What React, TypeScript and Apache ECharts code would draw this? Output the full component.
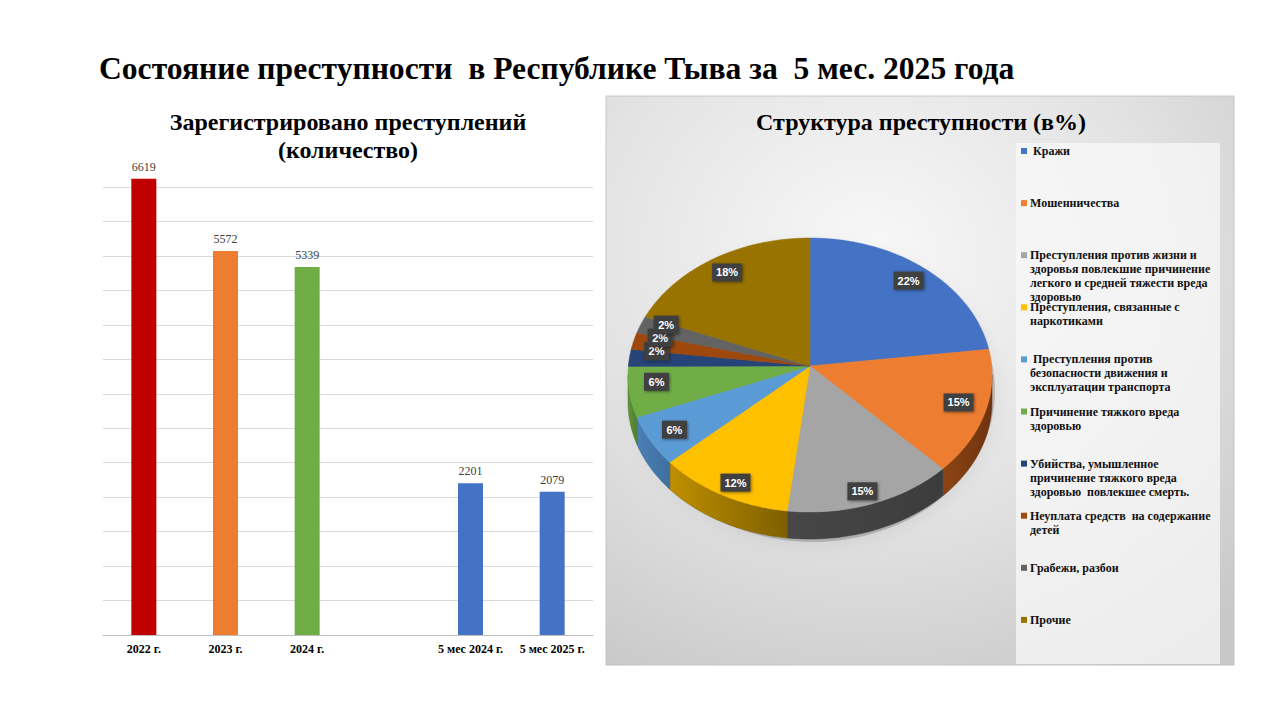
import React, { useEffect, useRef } from "react";
import * as echarts from "echarts";

// ---------- data ----------
const mainTitle = "Состояние преступности  в Республике Тыва за  5 мес. 2025 года";
const barTitleLines = ["Зарегистрировано преступлений", "(количество)"];
const pieTitle = "Структура преступности (в%)";

const barCategories = ["2022 г.", "2023 г.", "2024 г.", "", "5 мес 2024 г.", "5 мес 2025 г."];
const barValues: (number | null)[] = [6619, 5572, 5339, null, 2201, 2079];
const barColors = ["#C00000", "#ED7D31", "#70AD47", "#FFFFFF", "#4472C4", "#4472C4"];

const pieNames = [
  " Кражи",
  "Мошенничества",
  "Преступления против жизни и\nздоровья повлекшие причинение\nлегкого и средней тяжести вреда\nздоровью",
  "Преступления, связанные с\nнаркотиками",
  " Преступления против\nбезопасности движения и\nэксплуатации транспорта",
  "Причинение тяжкого вреда\nздоровью",
  "Убийства, умышленное\nпричинение тяжкого вреда\nздоровью  повлекшее смерть.",
  "Неуплата средств  на содержание\nдетей",
  "Грабежи, разбои",
  "Прочие",
];
const pieValues = [22, 15, 15, 12, 6, 6, 2, 2, 2, 18];
const pieColors = ["#4472C4", "#ED7D31", "#A5A5A5", "#FFC000", "#5B9BD5", "#70AD47", "#264478", "#9E480E", "#636363", "#997300"];
const pieSideColors = [
  ["#2F528F", "#2A4A80"],
  ["#8E4414", "#6E330F"],
  ["#474747", "#3C3C3C"],
  ["#BF8F00", "#7F5F00"],
  ["#4A80B5", "#3F6F9E"],
  ["#5E9639", "#4F7D31"],
  ["#1D3460", "#1D3460"],
  ["#7A370B", "#7A370B"],
  ["#4A4A4A", "#4A4A4A"],
  ["#735600", "#735600"],
];

// ---------- pie geometry (layout) ----------
const PIE = { cx: 810, cy: 375, rx: 182, ry: 137, depth: 27, apexDy: -9 };
const pieTotal = pieValues.reduce((a, b) => a + b, 0);
const pieStarts: number[] = [];
pieValues.reduce((acc, v, i) => {
  pieStarts[i] = acc;
  return acc + v;
}, 0);

function ellPt(deg: number, dy = 0): number[] {
  const r = (deg * Math.PI) / 180;
  return [PIE.cx + PIE.rx * Math.sin(r), PIE.cy - PIE.ry * Math.cos(r) + dy];
}
function arcPts(a0: number, a1: number, dy = 0): number[][] {
  const pts: number[][] = [];
  for (let t = a0; t < a1; t += 1) pts.push(ellPt(t, dy));
  pts.push(ellPt(a1, dy));
  return pts;
}

const SERIF = '"Liberation Serif", "Times New Roman", serif';

export default function App() {
  const ref = useRef<HTMLDivElement>(null);

  useEffect(() => {
    if (!ref.current) return;
    const chart = echarts.init(ref.current, undefined, { renderer: "svg" });

    const legendItems: any[] = [];
    pieNames.forEach((name, i) => {
      const y = 144 + i * 52.1;
      legendItems.push({
        type: "rect",
        shape: { x: 1021, y: y + 4, width: 6, height: 6 },
        style: { fill: pieColors[i] },
        z: 5,
      });
      legendItems.push({
        type: "text",
        x: 1030,
        y: y,
        style: {
          text: name,
          font: `bold 12px ${SERIF}`,
          fill: "#111111",
          lineHeight: 14,
          verticalAlign: "top",
          align: "left",
        },
        z: 5,
      });
    });

    const option: any = {
      animation: false,
      backgroundColor: "#ffffff",
      graphic: [
        {
          type: "text",
          x: 99,
          y: 68,
          style: { text: mainTitle, font: `bold 31.6px ${SERIF}`, fill: "#000", verticalAlign: "middle", align: "left" },
          z: 5,
        },
        {
          type: "text",
          x: 348,
          y: 122,
          style: { text: barTitleLines[0], font: `bold 24px ${SERIF}`, fill: "#000", verticalAlign: "middle", align: "center" },
          z: 5,
        },
        {
          type: "text",
          x: 348,
          y: 150,
          style: { text: barTitleLines[1], font: `bold 24px ${SERIF}`, fill: "#000", verticalAlign: "middle", align: "center" },
          z: 5,
        },
        {
          type: "rect",
          shape: { x: 606, y: 96, width: 628, height: 569 },
          style: {
            fill: new echarts.graphic.RadialGradient(0.42, 0.28, 0.85, [
              { offset: 0, color: "#f8f8f8" },
              { offset: 0.55, color: "#e2e2e2" },
              { offset: 1, color: "#c8c8c8" },
            ]),
            stroke: "#c4c4c4",
            lineWidth: 1,
          },
          z: 0,
        },
        {
          type: "rect",
          shape: { x: 1016, y: 143, width: 204, height: 521 },
          style: { fill: "rgba(248,248,248,0.75)" },
          z: 1,
        },
        {
          type: "text",
          x: 921,
          y: 122,
          style: { text: pieTitle, font: `bold 24px ${SERIF}`, fill: "#000", verticalAlign: "middle", align: "center" },
          z: 5,
        },
        {
          type: "ellipse",
          shape: { cx: PIE.cx + 3, cy: PIE.cy + 16, rx: PIE.rx, ry: PIE.ry + 14 },
          style: { fill: "rgba(0,0,0,0.18)", shadowBlur: 18, shadowColor: "rgba(0,0,0,0.35)", shadowOffsetX: 2, shadowOffsetY: 4 },
          z: 1,
        },
        ...legendItems,
      ],
      grid: { left: 103, right: 1280 - 593, top: 187, bottom: 720 - 635, containLabel: false },
      xAxis: {
        type: "category",
        data: barCategories,
        axisTick: { show: false },
        axisLine: { lineStyle: { color: "#bfbfbf", width: 1 } },
        axisLabel: { interval: 0, color: "#000", fontFamily: SERIF, fontWeight: "bold", fontSize: 12, margin: 8 },
      },
      yAxis: {
        type: "value",
        min: 0,
        max: 6500,
        interval: 500,
        axisLabel: { show: false },
        axisLine: { show: false },
        axisTick: { show: false },
        splitLine: { lineStyle: { color: "#d9d9d9", width: 1 } },
      },
      series: [
        {
          type: "bar",
          clip: false,
          barWidth: 25,
          data: barValues.map((v, i) => ({ value: v, itemStyle: { color: barColors[i] } })),
          label: {
            show: true,
            position: "top",
            distance: 6,
            color: "#404040",
            fontFamily: SERIF,
            fontSize: 12,
          },
          z: 3,
        },
        {
          type: "custom",
          coordinateSystem: "none",
          data: pieValues,
          z: 3,
          renderItem: (params: any) => {
            const i = params.dataIndex;
            const a0 = (pieStarts[i] / pieTotal) * 360;
            const a1 = ((pieStarts[i] + pieValues[i]) / pieTotal) * 360;
            const children: any[] = [];
            const s0 = Math.max(a0, 90);
            const s1 = Math.min(a1, 270);
            if (s1 > s0) {
              const up = arcPts(s0, s1);
              const down = arcPts(s0, s1, PIE.depth).reverse();
              children.push({
                type: "polygon",
                shape: { points: up.concat(down) },
                style: {
                  fill: new echarts.graphic.LinearGradient(0, 0, 1, 0, [
                    { offset: 0, color: pieSideColors[i][0] },
                    { offset: 1, color: pieSideColors[i][1] },
                  ]),
                  stroke: pieSideColors[i][1],
                  lineWidth: 0.5,
                },
                z2: 1,
              });
            }
            children.push({
              type: "polygon",
              shape: { points: [[PIE.cx, PIE.cy + PIE.apexDy]].concat(arcPts(a0, a1)) },
              style: { fill: pieColors[i], stroke: pieColors[i], lineWidth: 0.5 },
              z2: 2,
            });
            return { type: "group", children };
          },
        },
        {
          type: "custom",
          coordinateSystem: "none",
          data: pieValues,
          z: 4,
          renderItem: (params: any) => {
            const i = params.dataIndex;
            const mid = ((pieStarts[i] + pieValues[i] / 2) / pieTotal) * 360;
            const r = (mid * Math.PI) / 180;
            const c = Math.cos(r);
            const lx = PIE.cx + PIE.rx * Math.sin(r) * 0.85;
            const ly = PIE.cy - 10 - PIE.ry * c * (c > 0 ? 0.8 : 0.98);
            const txt = Math.round((pieValues[i] / pieTotal) * 100) + "%";
            const w = txt.length > 2 ? 30 : 25;
            return {
              type: "group",
              children: [
                {
                  type: "rect",
                  shape: { x: lx - w / 2, y: ly - 9, width: w, height: 18 },
                  style: {
                    fill: "#404040",
                    shadowBlur: 3,
                    shadowColor: "rgba(0,0,0,0.45)",
                    shadowOffsetX: 1,
                    shadowOffsetY: 1,
                  },
                },
                {
                  type: "text",
                  x: lx,
                  y: ly,
                  style: {
                    text: txt,
                    fill: "#ffffff",
                    font: 'bold 11px "Liberation Sans", Arial, sans-serif',
                    align: "center",
                    verticalAlign: "middle",
                  },
                },
              ],
            };
          },
        },
      ],
    };

    chart.setOption(option);
    return () => chart.dispose();
  }, []);

  return (
    <div
      ref={ref}
      style={{ position: "fixed", left: 0, top: 0, width: 1280, height: 720, background: "#fff" }}
    />
  );
}
